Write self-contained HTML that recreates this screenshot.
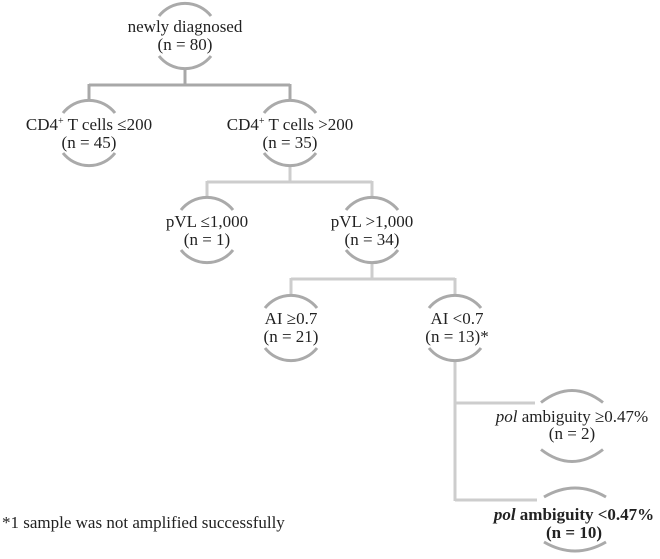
<!DOCTYPE html>
<html><head><meta charset="utf-8"><style>
html,body{margin:0;padding:0;background:#fff;}
svg{display:block;}
text{font-family:"Liberation Serif",serif;font-size:17px;fill:#222;}
</style></head><body>
<svg width="660" height="559" viewBox="0 0 660 559" xmlns="http://www.w3.org/2000/svg">
<g fill="none" stroke-width="3">
<path d="M185 69 V85 M89 85 H290 M89 84 V100 M290 84 V100" stroke="#a8a8a8"/>
<path d="M290 166 V182 M207 182 H372 M207 181 V197 M372 181 V197" stroke="#cdcdcd"/>
<path d="M372 264 V279 M291 279 H455 M291 278 V295 M455 278 V295" stroke="#cdcdcd"/>
<path d="M455 362 V501 M455 403 H535 M455 500 H537" stroke="#cdcdcd"/>
</g>
<g id="arcs" fill="none" stroke="#aaaaaa" stroke-width="3"></g>
<g text-anchor="middle">
<text x="185" y="32">newly diagnosed</text>
<text x="185" y="50">(n = 80)</text>
<text x="89" y="130">CD4<tspan font-size="10" dy="-6">+</tspan><tspan dy="6"> T cells ≤200</tspan></text>
<text x="89" y="148">(n = 45)</text>
<text x="290" y="130">CD4<tspan font-size="10" dy="-6">+</tspan><tspan dy="6"> T cells &gt;200</tspan></text>
<text x="290" y="148">(n = 35)</text>
<text x="207" y="227">pVL ≤1,000</text>
<text x="207" y="245">(n = 1)</text>
<text x="372" y="227">pVL &gt;1,000</text>
<text x="372" y="245">(n = 34)</text>
<text x="291" y="324">AI ≥0.7</text>
<text x="291" y="342">(n = 21)</text>
<text x="457" y="324">AI &lt;0.7</text>
<text x="457" y="342">(n = 13)*</text>
<text x="572" y="422"><tspan font-style="italic">pol</tspan> ambiguity ≥0.47%</text>
<text x="572" y="439">(n = 2)</text>
<text x="574" y="520" font-weight="bold"><tspan font-style="italic">pol</tspan> ambiguity &lt;0.47%</text>
<text x="574" y="538" font-weight="bold">(n = 10)</text>
</g>
<text x="2" y="528">*1 sample was not amplified successfully</text>
</svg>
<script>
var nodes=[[185,36],[89,133],[290,133],[207,230],[372,230],[291,328],[455,328]];
var g=document.getElementById('arcs'),s='';
nodes.forEach(function(n){var x=n[0],y=n[1];
s+='<path d="M'+(x-26)+' '+(y-20)+' A33 33 0 0 1 '+(x+26)+' '+(y-20)+'"/>';
s+='<path d="M'+(x-26)+' '+(y+20)+' A33 33 0 0 0 '+(x+26)+' '+(y+20)+'"/>';});
[[572,426,23.5,12,31],[575,519.5,22.5,9,31]].forEach(function(n){var x=n[0],y=n[1],d=n[2],k=n[3],h=n[4];
s+='<path d="M'+(x-h)+' '+(y-d)+' Q'+x+' '+(y-d-2*k)+' '+(x+h)+' '+(y-d)+'"/>';
s+='<path d="M'+(x-h)+' '+(y+d)+' Q'+x+' '+(y+d+2*k)+' '+(x+h)+' '+(y+d)+'"/>';});
g.innerHTML=s;
</script>
</body></html>
